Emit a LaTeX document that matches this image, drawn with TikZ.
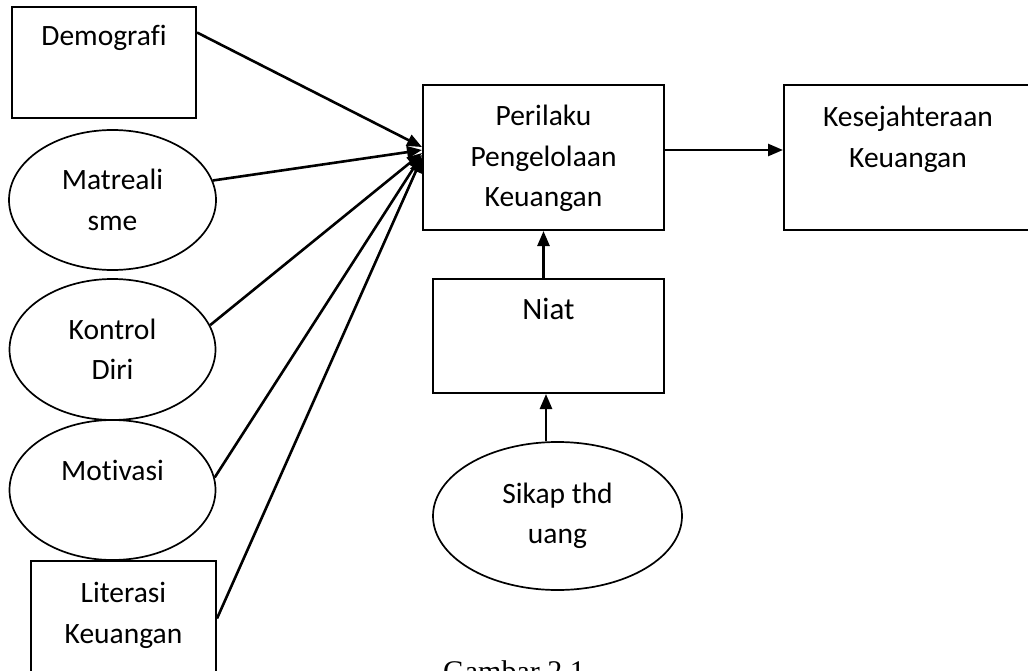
\documentclass[tikz,border=0pt]{standalone}
\usepackage{fontspec}
\setmainfont{Carlito}[Ligatures={NoCommon}]
\newfontfamily\capfont{Liberation Serif}
\usetikzlibrary{shapes.geometric,positioning,arrows.meta}

\begin{document}
\begin{tikzpicture}[x=1pt,y=-1pt,>={Triangle[length=15pt,width=12pt]},
  box/.style={draw,rectangle,line width=2pt,inner sep=0pt},
  oval/.style={draw,ellipse,line width=1.7pt,inner sep=0pt,align=center,font=\fontsize{29.5}{40.5}\selectfont},
  txt/.style={inner sep=0pt,align=center,font=\fontsize{29.5}{40.5}\selectfont},
  link/.style={->,line width=2.6pt}]

    \clip (0,0) rectangle (1028,671);

    % Left column
	\node [box,minimum width=184pt,minimum height=111pt] at (104,62.5) (demo) {};
	\node [txt,below=19pt of demo.north] (demotxt) {Demografi};
	\node [oval,minimum width=207pt,minimum height=140pt] at (112.5,200) (matre) {Matreali\\sme};
	\node [oval,minimum width=206pt,minimum height=141pt] at (112.5,349.5) (kontrol) {Kontrol\\Diri};
	\node [oval,minimum width=206pt,minimum height=140pt] at (112.5,490) (motiv) {};
	\node [txt,below=41pt of motiv.north] (motivtxt) {Motivasi};
	\node [box,minimum width=185pt,minimum height=115pt] at (123.5,618.5) (lit) {};
	\node [txt,below=22pt of lit.north] (littxt) {Literasi\\Keuangan};

    % Middle and right
	\node [box,minimum width=241pt,minimum height=145pt] at (543.5,157.5) (peri) {};
	\node [txt,below=21pt of peri.north] (peritxt) {Perilaku\\Pengelolaan\\Keuangan};
	\node [box,minimum width=248pt,minimum height=145pt] at (908,157.5) (kese) {};
	\node [txt,below=22pt of kese.north] (kesetxt) {Kesejahteraan\\Keuangan};
	\node [box,minimum width=231pt,minimum height=114pt] at (548.5,336) (niat) {};
	\node [txt,font=\fontsize{31}{38}\selectfont,below=20pt of niat.north] (niattxt) {Niat};
	\node [oval,minimum width=249pt,minimum height=148pt] at (557.5,516) (sikap) {Sikap thd\\uang};

	\node [inner sep=0pt,anchor=base west,font=\capfont\fontsize{30}{36}\selectfont] at (443,681) (cap) {Gambar 2.1};

	% Arrows
	\draw [link] ([yshift=30pt]demo.east) -- ([yshift=10.5pt]peri.west);
	\draw [link] (matre.11) -- ([yshift=7.5pt]peri.west);
	\draw [link] (kontrol.14) -- ([yshift=4.5pt]peri.west);
	\draw [link] (motiv.7) -- ([yshift=2.5pt]peri.west);
	\draw [link] (lit.east) -- (peri.west);
	\draw [link] ([yshift=7.5pt]peri.east) -- ([yshift=7.5pt]kese.west);
	\draw [link] ([xshift=-5pt]niat.north) -- (peri.south);
	\draw [link] ([xshift=-2.5pt]niat.south |- sikap.north) -- ([xshift=-2.5pt]niat.south);

\end{tikzpicture}
\end{document}
